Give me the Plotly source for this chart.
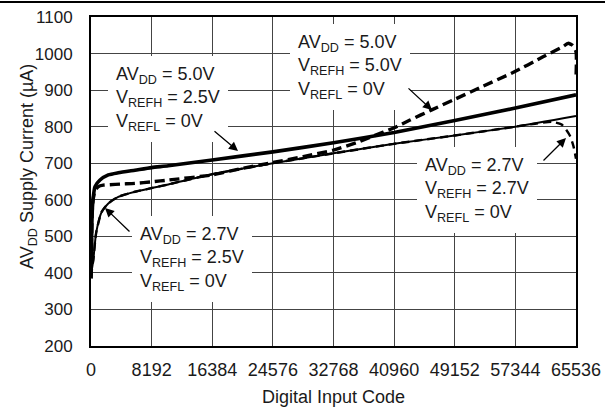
import plotly.graph_objects as go

# ---------------- data ----------------
x_ticks = [0, 8192, 16384, 24576, 32768, 40960, 49152, 57344, 65536]
y_ticks = [200, 300, 400, 500, 600, 700, 800, 900, 1000, 1100]

# AVDD = 5.0V, VREFH = 2.5V (thick solid)
code_a = [0, 150, 270, 540, 1216, 2338, 3689, 5946, 8192, 10445, 16384, 24576, 32768, 40960, 49152, 57344, 65536]
curr_a = [385, 560, 600, 636, 654, 668, 674, 681, 688, 693, 709, 731, 756, 784, 817, 851, 887]

# AVDD = 2.7V, VREFH = 2.5V (thin solid)
code_b = [0, 120, 310, 700, 1446, 2338, 3689, 5946, 8192, 10445, 16384, 24576, 32768, 40960, 49152, 57344, 65536]
curr_b = [390, 410, 435, 510, 567, 590, 608, 622, 632, 642, 670, 700, 727, 753, 776, 800, 829]

# AVDD = 5.0V, VREFH = 5.0V (thick dashed)
code_c = [0, 150, 270, 540, 1000, 1660, 2500, 4000, 5946, 8192, 10445, 16384, 20000, 24576, 28672,
          32768, 36000, 38000, 40960, 43108, 46039, 48958, 52566, 57025, 61079, 63782, 64457, 65100,
          65536, 65536]
curr_c = [385, 560, 598, 625, 636, 640, 641, 643, 645, 649, 654, 668, 684, 702, 718,
          736, 757, 773, 797, 818, 846, 873, 907, 948, 991, 1019, 1028, 1022,
          1005, 935]

# AVDD = 2.7V, VREFH = 2.7V (thin dashed)
code_d = [0, 120, 310, 700, 1446, 2338, 3689, 5946, 8192, 10445, 16384, 24576, 32768, 40960, 49152,
          57344, 60000, 62300, 63600, 64700, 65200, 65536]
curr_d = [390, 410, 435, 510, 567, 590, 608, 622, 632, 642, 670, 700, 727, 753, 776,
          800, 808, 813, 806, 776, 746, 712]

labels = [
    "AV<sub>DD</sub> = 5.0V<br>V<sub>REFH</sub> = 2.5V<br>V<sub>REFL</sub> = 0V",
    "AV<sub>DD</sub> = 2.7V<br>V<sub>REFH</sub> = 2.5V<br>V<sub>REFL</sub> = 0V",
    "AV<sub>DD</sub> = 5.0V<br>V<sub>REFH</sub> = 5.0V<br>V<sub>REFL</sub> = 0V",
    "AV<sub>DD</sub> = 2.7V<br>V<sub>REFH</sub> = 2.7V<br>V<sub>REFL</sub> = 0V",
]

# ---------------- geometry helpers ----------------
W, H = 605, 408
L, R, T, B = 91, 29, 17, 62
PW, PH = W - L - R, H - T - B
XMAX = 65536
YMIN, YMAX = 200, 1100


def px2code(px):
    return (px - L) / PW * XMAX


def py2val(py):
    return YMAX - (py - T) / PH * (YMAX - YMIN)


FONT = "Liberation Sans, Arial, Helvetica, sans-serif"
INK = "#1a1a1a"

fig = go.Figure()

fig.add_trace(go.Scatter(x=code_d, y=curr_d, mode="lines",
                         line=dict(color="black", width=2.4, dash="8px,5px", shape="spline", smoothing=0.6)))
fig.add_trace(go.Scatter(x=code_b, y=curr_b, mode="lines",
                         line=dict(color="black", width=2, shape="spline", smoothing=0.6)))
fig.add_trace(go.Scatter(x=code_c, y=curr_c, mode="lines",
                         line=dict(color="black", width=3.4, dash="10px,5px", shape="spline", smoothing=0.6)))
fig.add_trace(go.Scatter(x=code_a, y=curr_a, mode="lines",
                         line=dict(color="black", width=3.6, shape="spline", smoothing=0.6)))

# text blocks (left edge px, center y px)
text_pos = [(108, 99), (132, 259), (290, 67), (417, 190)]
for txt, (px, py) in zip(labels, text_pos):
    fig.add_annotation(x=px2code(px), y=py2val(py), text=txt, showarrow=False,
                       xanchor="left", yanchor="middle", align="left",
                       bgcolor="white", borderpad=8, borderwidth=0,
                       font=dict(family=FONT, size=18, color=INK))

# arrows: (tail px, tip px)
arrows = [((213, 130), (238, 151)), ((131, 233), (105, 208)),
          ((407, 87), (432, 110)), ((542, 162), (566, 138))]
for (tx, ty), (hx, hy) in arrows:
    fig.add_annotation(x=px2code(hx), y=py2val(hy), ax=tx - hx, ay=ty - hy,
                       text="", showarrow=True, arrowhead=2, arrowsize=1.4,
                       arrowwidth=1.3, arrowcolor="black")

# axis titles
fig.add_annotation(xref="paper", yref="paper", x=(28 - L) / PW, y=1 - (167 - T) / PH,
                   text="AV<sub>DD</sub> Supply Current (µA)", textangle=-90, showarrow=False,
                   xanchor="center", yanchor="middle", font=dict(family=FONT, size=18, color=INK))
fig.add_annotation(xref="paper", yref="paper", x=0.5, y=-(397 - T - PH) / PH,
                   text="Digital Input Code", showarrow=False,
                   xanchor="center", yanchor="middle", font=dict(family=FONT, size=18, color=INK))

# top rule of the page
fig.add_shape(type="line", xref="paper", yref="paper", layer="above",
              x0=-L / PW, x1=(W - L) / PW,
              y0=1 + (T - 2) / PH, y1=1 + (T - 2) / PH, line=dict(color="black", width=2))

fig.update_xaxes(range=[0, XMAX], tickvals=x_ticks, ticktext=[str(v) for v in x_ticks],
                 showgrid=True, gridcolor="#444", gridwidth=1, zeroline=False,
                 showline=True, linecolor="black", linewidth=2, mirror=True,
                 ticks="outside", ticklen=6, tickcolor="rgba(0,0,0,0)", automargin=False,
                 tickfont=dict(family=FONT, size=18, color=INK))
fig.update_yaxes(range=[YMIN, YMAX], tickvals=y_ticks,
                 showgrid=True, gridcolor="#444", gridwidth=1, zeroline=False,
                 showline=True, linecolor="black", linewidth=2, mirror=True,
                 ticks="outside", ticklen=13, tickcolor="rgba(0,0,0,0)", automargin=False,
                 tickfont=dict(family=FONT, size=17, color=INK))

fig.update_layout(width=W, height=H, margin=dict(l=L, r=R, t=T, b=B, autoexpand=False),
                  paper_bgcolor="white", plot_bgcolor="white", showlegend=False)

fig.write_html("out.html", config={"displayModeBar": False},
               post_script="document.body.style.margin='0px';")
